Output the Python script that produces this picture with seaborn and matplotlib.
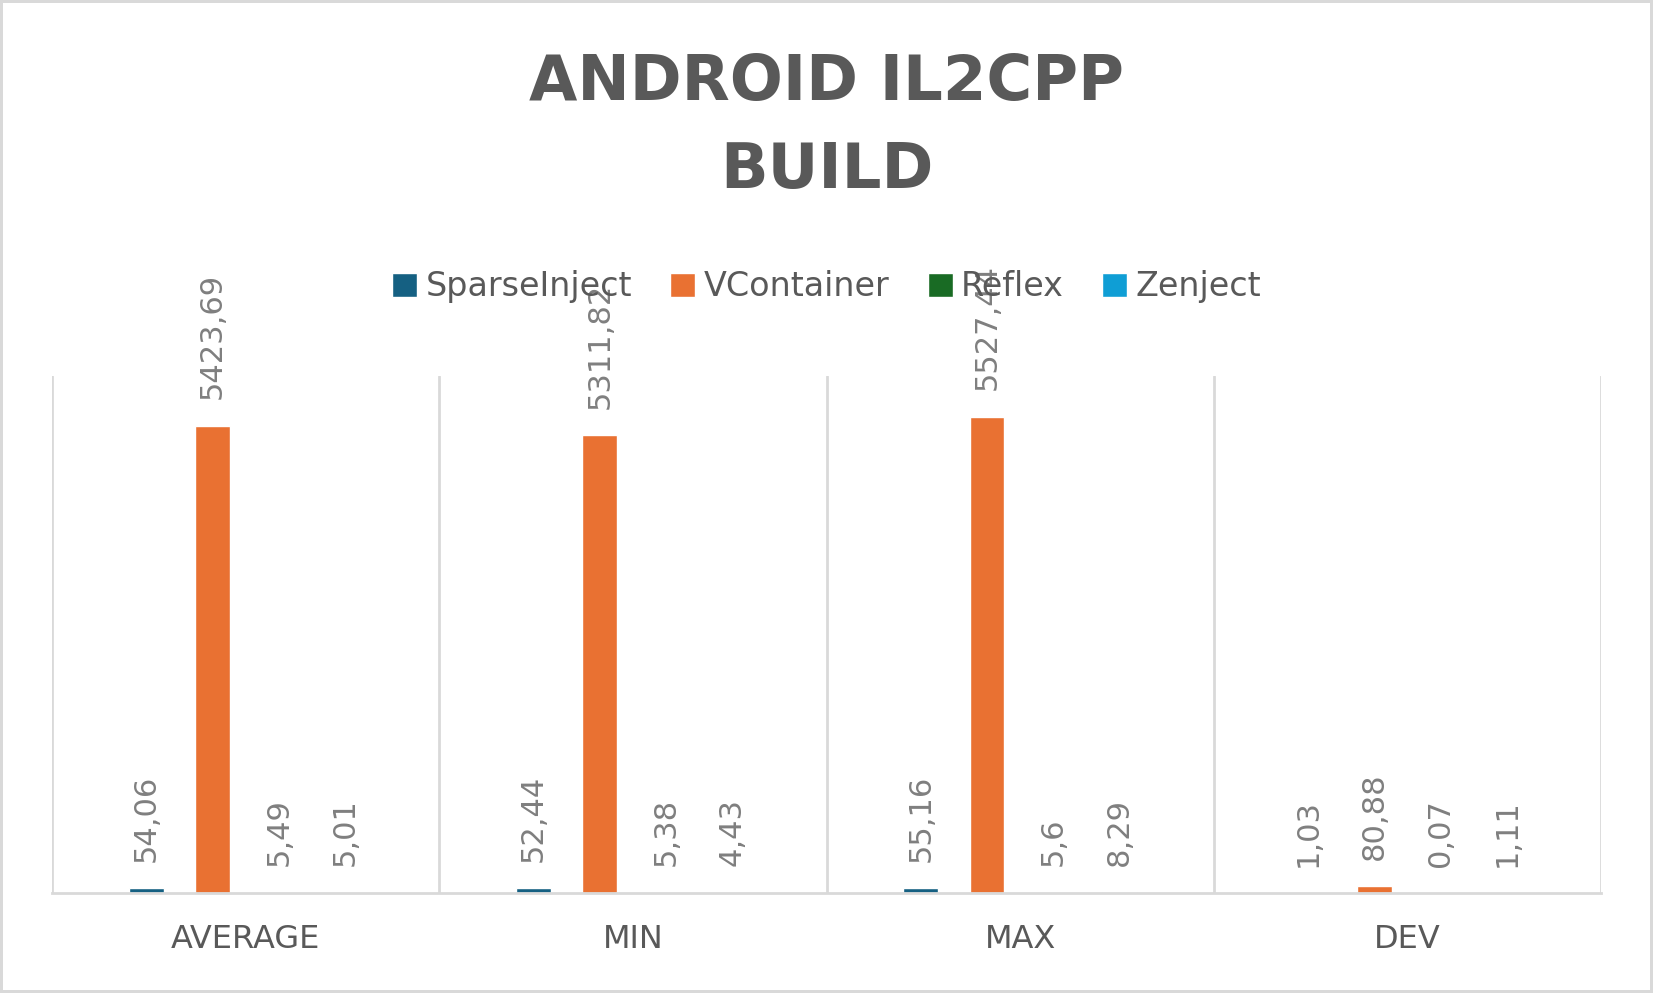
import numpy as np
import pandas as pd
import seaborn as sns
from matplotlib import pyplot as plt

categories = ["AVERAGE", "MIN", "MAX", "DEV"]
series = ["SparseInject", "VContainer", "Reflex", "Zenject"]
sparseinject = [54.06, 52.44, 55.16, 1.03]
vcontainer = [5423.69, 5311.82, 5527.44, 80.88]
reflex = [5.49, 5.38, 5.6, 0.07]
zenject = [5.01, 4.43, 8.29, 1.11]
colors = ["#156082", "#E97132", "#196B24", "#0F9ED5"]

df = pd.DataFrame({
    "stat": categories * 4,
    "lib": np.repeat(series, 4),
    "value": sparseinject + vcontainer + reflex + zenject,
})

sns.set_theme(style="white")
plt.rcParams["font.family"] = ["DejaVu Sans"]

fig = plt.figure(figsize=(16.53, 9.93), dpi=100)
fig.patch.set_edgecolor("#d9d9d9")
fig.patch.set_linewidth(3)
ax = fig.add_axes([0.0315, 0.1007, 0.9371, 0.5206])

sns.barplot(data=df, x="stat", y="value", hue="lib", order=categories,
            hue_order=series, palette=colors, width=0.685, gap=0.475,
            saturation=1, ax=ax, legend=True)

ax.set_xlim(-0.5, 3.5)
ax.set_ylim(0, 6000)
ax.set_yticks([])
ax.set_xlabel("")
ax.set_ylabel("")
for s in ["top", "left", "right"]:
    ax.spines[s].set_visible(False)
ax.spines["bottom"].set_color("#d9d9d9")
ax.spines["bottom"].set_linewidth(2)
for x in np.arange(-0.5, 4, 1):
    ax.axvline(x, color="#d9d9d9", lw=2, zorder=0)

ax.tick_params(axis="x", length=0, pad=22)
for t in ax.get_xticklabels():
    t.set_fontsize(23)
    t.set_color("#595959")

# data labels
for cont in ax.containers:
    for bar in cont:
        v = bar.get_height()
        txt = f"{v:g}".replace(".", ",")
        ax.annotate(txt, (bar.get_x() + bar.get_width() / 2, v),
                    xytext=(0, 19), textcoords="offset points",
                    rotation=90, ha="center", va="bottom",
                    fontsize=22, color="#7f7f7f")

leg = ax.legend(loc="center", bbox_to_anchor=(0.5, 0.711),
                bbox_transform=fig.transFigure, ncol=4, frameon=False,
                fontsize=24, handlelength=0.75, handleheight=0.75,
                handletextpad=0.25, columnspacing=1.15)
for t in leg.get_texts():
    t.set_color("#595959")

fig.suptitle("ANDROID IL2CPP\nBUILD", x=0.5, y=0.872, va="center",
             fontsize=45, fontweight="bold", color="#595959",
             linespacing=1.6)

fig.savefig("out.png", dpi=100)
